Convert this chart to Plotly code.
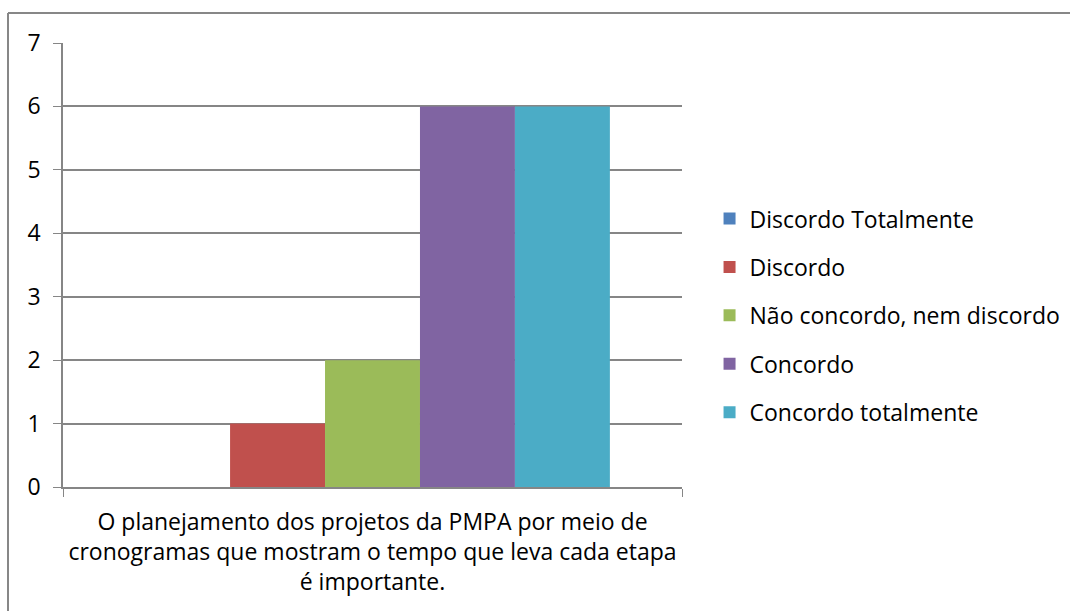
import plotly.graph_objects as go

categories = ["O planejamento dos projetos da PMPA por meio de<br>cronogramas que mostram o tempo que leva cada etapa<br>é importante."]
series_names = ["Discordo Totalmente", "Discordo", "Não concordo, nem discordo", "Concordo", "Concordo totalmente"]
series_values = [0, 1, 2, 6, 6]
series_colors = ["#4F81BD", "#C0504D", "#9BBB59", "#8064A2", "#4BACC6"]
y_ticks = [0, 1, 2, 3, 4, 5, 6, 7]

FONT = "Open Sans"
FS = 23

fig = go.Figure()
for name, val, col in zip(series_names, series_values, series_colors):
    fig.add_trace(go.Bar(
        x=categories, y=[val], name=name, marker=dict(color=col, line=dict(width=0)),
        legendgroup=name,
    ))

fig.update_layout(
    width=1070, height=611,
    margin=dict(l=63, r=388, t=43, b=124, autoexpand=False),
    paper_bgcolor="white", plot_bgcolor="white",
    barmode="group", bargap=0.233, bargroupgap=0,
    font=dict(family=FONT, size=FS, color="black"),
    showlegend=True,
    legend=dict(x=1.0445, y=0.386, xanchor="left", yanchor="middle",
                font=dict(family=FONT, size=FS, color="black"),
                tracegroupgap=15.5, itemwidth=30, bgcolor="rgba(0,0,0,0)"),
    xaxis=dict(showgrid=False, showline=True, linecolor="#868686", linewidth=1.5,
               ticks="outside", tickson="boundaries", ticklen=8, tickcolor="#868686",
               ticklabelstandoff=14, tickangle=0, automargin=False,
               tickfont=dict(family=FONT, size=FS, color="black")),
    yaxis=dict(range=[0, 7], tickvals=y_ticks, showgrid=True, gridcolor="#868686", gridwidth=1.5,
               showline=True, linecolor="#868686", linewidth=1.5, zeroline=False,
               ticks="outside", ticklen=8, tickcolor="#868686",
               ticklabelstandoff=8, automargin=False,
               tickfont=dict(family=FONT, size=FS, color="black")),
    shapes=[
        dict(type="line", xref="paper", yref="paper", x0=(8-63)/619, x1=2.0, y0=(487-13)/444, y1=(487-13)/444,
             line=dict(color="#878787", width=2)),
        dict(type="line", xref="paper", yref="paper", x0=(8-63)/619, x1=(8-63)/619, y0=(487-13)/444, y1=-1.0,
             line=dict(color="#878787", width=2)),
    ],
)

fig.write_html("out.html", config={"displayModeBar": False},
               post_script="document.body.style.margin='0px';")
